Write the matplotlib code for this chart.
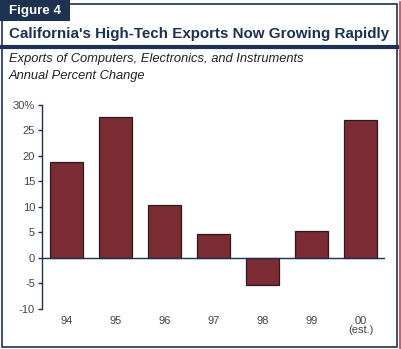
import matplotlib.pyplot as plt
from matplotlib.patches import Rectangle
from matplotlib.lines import Line2D

plt.rcParams['font.family'] = ['Liberation Sans', 'DejaVu Sans']

years = ['94', '95', '96', '97', '98', '99', '00\n(est.)']
pct_change = [18.8, 27.6, 10.4, 4.7, -5.3, 5.2, 27.0]
y_ticks = [-10, -5, 0, 5, 10, 15, 20, 25, 30]
y_labels = ['-10', '-5', '0', '5', '10', '15', '20', '25', '30%']

navy = '#1c3250'
maroon = '#7b2b32'
W, H = 402, 349

fig = plt.figure(figsize=(W / 100, H / 100), dpi=100)
fig.patch.set_facecolor('white')

# outer frame and header pieces, in pixel coords
def px(x, y):
    return x / W, 1 - y / H

frame = Rectangle(px(2, 347), 395 / W, 343 / H, transform=fig.transFigure,
                  fill=False, edgecolor=navy, linewidth=1.2)
fig.add_artist(frame)
tab = Rectangle(px(0, 21), 70 / W, 21 / H, transform=fig.transFigure,
                facecolor=navy, edgecolor='none')
fig.add_artist(tab)
fig.add_artist(Line2D([2 / W, 397 / W], [1 - 47 / H] * 2, transform=fig.transFigure,
                      color=navy, linewidth=3))
fig.add_artist(Line2D([400 / W] * 2, [1 - 2 / H, 1 - 349 / H], transform=fig.transFigure,
                      color='#c0404a', linewidth=1.2))

fig.text(*px(9, 11), 'Figure 4', color='white', fontsize=9.6, fontweight='bold', va='center')
fig.text(*px(9, 34), "California's High-Tech Exports Now Growing Rapidly",
         color=navy, fontsize=10.9, fontweight='bold', va='center')
fig.text(*px(9, 59), 'Exports of Computers, Electronics, and Instruments',
         color='#222222', fontsize=9.3, style='italic', va='center')
fig.text(*px(9, 76), 'Annual Percent Change',
         color='#222222', fontsize=9.3, style='italic', va='center')

# chart area: x 42..385 px, y 30% at 104.7 px, -10 at 308.7 px
ax = fig.add_axes([42 / W, 1 - 308.7 / H, (385 - 42) / W, (308.7 - 104.7) / H])
ax.set_facecolor('none')
xs = list(range(len(years)))
ax.bar(xs, pct_change, width=0.67, color=maroon, edgecolor='#2a1a22', linewidth=0.9, zorder=2)
ax.axhline(0, color=navy, linewidth=1, zorder=3)
ax.set_xlim(-0.5, 6.5)
ax.set_ylim(-10, 30)
ax.set_yticks(y_ticks)
ax.set_yticklabels(y_labels)
ax.set_xticks(xs)
ax.set_xticklabels(years)
for s in ['top', 'right', 'bottom']:
    ax.spines[s].set_visible(False)
ax.spines['left'].set_color(navy)
ax.spines['left'].set_linewidth(1)
ax.tick_params(axis='y', length=3, width=1, color=navy, labelsize=8, labelcolor='#444444', pad=2)
ax.tick_params(axis='x', length=0, labelsize=8, labelcolor='#444444', pad=5)
for lbl in ax.get_xticklabels():
    lbl.set_verticalalignment('top')
    lbl.set_linespacing(0.95)

fig.savefig('out.png', dpi=100)
